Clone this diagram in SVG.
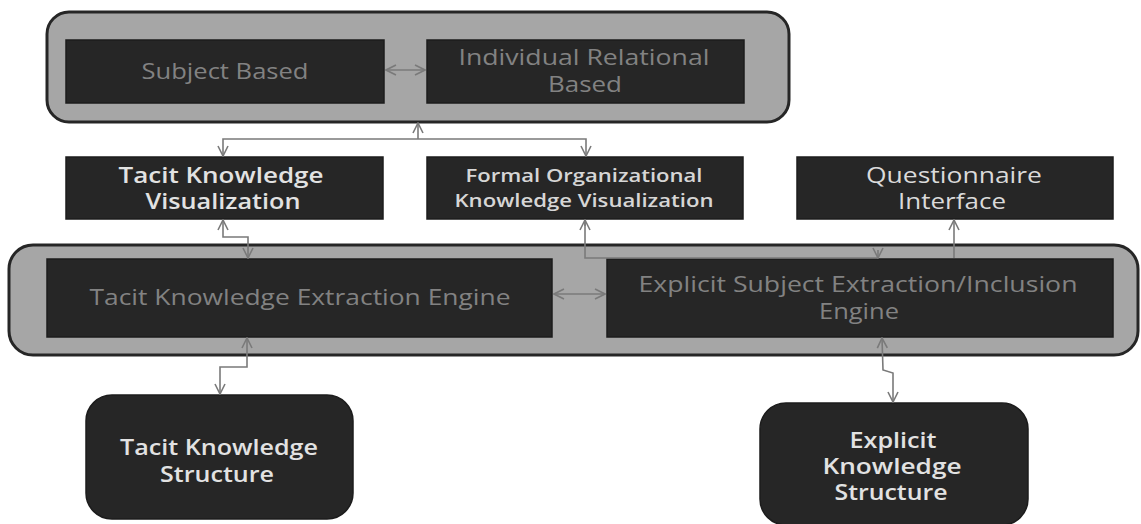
<svg xmlns="http://www.w3.org/2000/svg" width="1141" height="524" viewBox="0 0 1141 524">
  <style>
    .frame { fill: #a6a6a6; stroke: #262626; stroke-width: 3; }
    .box { fill: #262626; stroke: #1c1c1c; stroke-width: 1.5; }
    .t { font-family: "Open Sans", "Liberation Sans", sans-serif; text-anchor: middle; }
    .dim { fill: #828282; font-size: 21px; }
    .lit { fill: #e2e2e2; font-size: 21px; font-weight: 600; }
    .lit2 { fill: #d6d6d6; font-size: 18px; font-weight: 600; }
    .reg { fill: #dadada; font-size: 21px; }
    .conn { fill: none; stroke: #7a7a7a; stroke-width: 1.6; }
  </style>
  <defs>
    <marker id="arrow" viewBox="0 0 12 12" refX="11" refY="6" markerWidth="12" markerHeight="12" markerUnits="userSpaceOnUse" orient="auto-start-reverse">
      <path d="M1,1 L11,6 L1,11" fill="none" stroke="#7a7a7a" stroke-width="1.6"/>
    </marker>
  </defs>
  <rect width="1141" height="524" fill="#ffffff"/>

  <!-- upper group: subject / relational -->
  <g id="top-frame">
    <rect class="frame" x="47" y="12" width="742" height="110" rx="22"/>
  </g>
  <g id="subject-based">
    <rect class="box" x="66" y="40" width="318" height="63"/>
    <text class="t dim" x="225" y="79" textLength="167" lengthAdjust="spacingAndGlyphs">Subject Based</text>
  </g>
  <g id="individual-relational">
    <rect class="box" x="427" y="40" width="317" height="63"/>
    <text class="t dim" x="584" y="65" textLength="251" lengthAdjust="spacingAndGlyphs">Individual Relational</text>
    <text class="t dim" x="585" y="92" textLength="74" lengthAdjust="spacingAndGlyphs">Based</text>
  </g>

  <!-- visualization / interface row -->
  <g id="tacit-visualization">
    <rect class="box" x="66" y="157" width="317" height="62"/>
    <text class="t lit" x="221" y="183" textLength="205" lengthAdjust="spacingAndGlyphs">Tacit Knowledge</text>
    <text class="t lit" x="223" y="209" textLength="155" lengthAdjust="spacingAndGlyphs">Visualization</text>
  </g>
  <g id="formal-visualization">
    <rect class="box" x="427" y="157" width="316" height="62"/>
    <text class="t lit2" x="584" y="182" textLength="237" lengthAdjust="spacingAndGlyphs">Formal Organizational</text>
    <text class="t lit2" x="584" y="207" textLength="259" lengthAdjust="spacingAndGlyphs">Knowledge Visualization</text>
  </g>
  <g id="questionnaire">
    <rect class="box" x="797" y="157" width="316" height="62"/>
    <text class="t reg" x="954" y="183" textLength="176" lengthAdjust="spacingAndGlyphs">Questionnaire</text>
    <text class="t reg" x="952" y="209" textLength="108" lengthAdjust="spacingAndGlyphs">Interface</text>
  </g>

  <!-- engines -->
  <g id="engine-frame">
    <rect class="frame" x="9" y="245" width="1129" height="110" rx="24"/>
  </g>
  <g id="tacit-engine">
    <rect class="box" x="47" y="259" width="505" height="78"/>
    <text class="t dim" x="300" y="305" textLength="421" lengthAdjust="spacingAndGlyphs">Tacit Knowledge Extraction Engine</text>
  </g>
  <g id="explicit-engine">
    <rect class="box" x="607" y="259" width="506" height="78"/>
    <text class="t dim" x="858" y="292" textLength="439" lengthAdjust="spacingAndGlyphs">Explicit Subject Extraction/Inclusion</text>
    <text class="t dim" x="859" y="319" textLength="80" lengthAdjust="spacingAndGlyphs">Engine</text>
  </g>

  <!-- knowledge structures -->
  <g id="tacit-structure">
    <rect class="box" x="86" y="395" width="267" height="124" rx="26"/>
    <text class="t lit" x="219" y="455" textLength="198" lengthAdjust="spacingAndGlyphs">Tacit Knowledge</text>
    <text class="t lit" x="217" y="482" textLength="114" lengthAdjust="spacingAndGlyphs">Structure</text>
  </g>
  <g id="explicit-structure">
    <rect class="box" x="760" y="403" width="268" height="122" rx="26"/>
    <text class="t lit" x="893" y="448" textLength="87" lengthAdjust="spacingAndGlyphs">Explicit</text>
    <text class="t lit" x="892" y="474" textLength="139" lengthAdjust="spacingAndGlyphs">Knowledge</text>
    <text class="t lit" x="891" y="500" textLength="113" lengthAdjust="spacingAndGlyphs">Structure</text>
  </g>

  <g id="connectors">
    <!-- subject <-> relational -->
    <path class="conn" d="M386,70 L425,70" marker-start="url(#arrow)" marker-end="url(#arrow)"/>
    <!-- visualizations -> top frame -->
    <path class="conn" d="M418,139 L418,123" marker-end="url(#arrow)"/>
    <path class="conn" d="M223,156 L223,139 L586,139 L586,156" marker-start="url(#arrow)" marker-end="url(#arrow)"/>
    <!-- tacit visualization <-> tacit engine -->
    <path class="conn" d="M223,220 L223,237 L248,237 L248,258" marker-start="url(#arrow)" marker-end="url(#arrow)"/>
    <!-- formal visualization <-> explicit engine -->
    <path class="conn" d="M585,220 L585,258 L878,258"/>
    <path class="conn" d="M585,220 L585,226" marker-start="url(#arrow)"/>
    <path class="conn" d="M878,250 L878,258" marker-end="url(#arrow)"/>
    <!-- explicit engine -> questionnaire -->
    <path class="conn" d="M954,258 L954,220" marker-end="url(#arrow)"/>
    <!-- engine <-> engine -->
    <path class="conn" d="M554,294 L605,294" marker-start="url(#arrow)" marker-end="url(#arrow)"/>
    <!-- tacit engine <-> tacit structure -->
    <path class="conn" d="M247,338 L247,367 L220,367 L220,394" marker-start="url(#arrow)" marker-end="url(#arrow)"/>
    <!-- explicit engine <-> explicit structure -->
    <path class="conn" d="M882,338 L883,370 L893,373 L893,402" marker-start="url(#arrow)" marker-end="url(#arrow)"/>
  </g>
</svg>
